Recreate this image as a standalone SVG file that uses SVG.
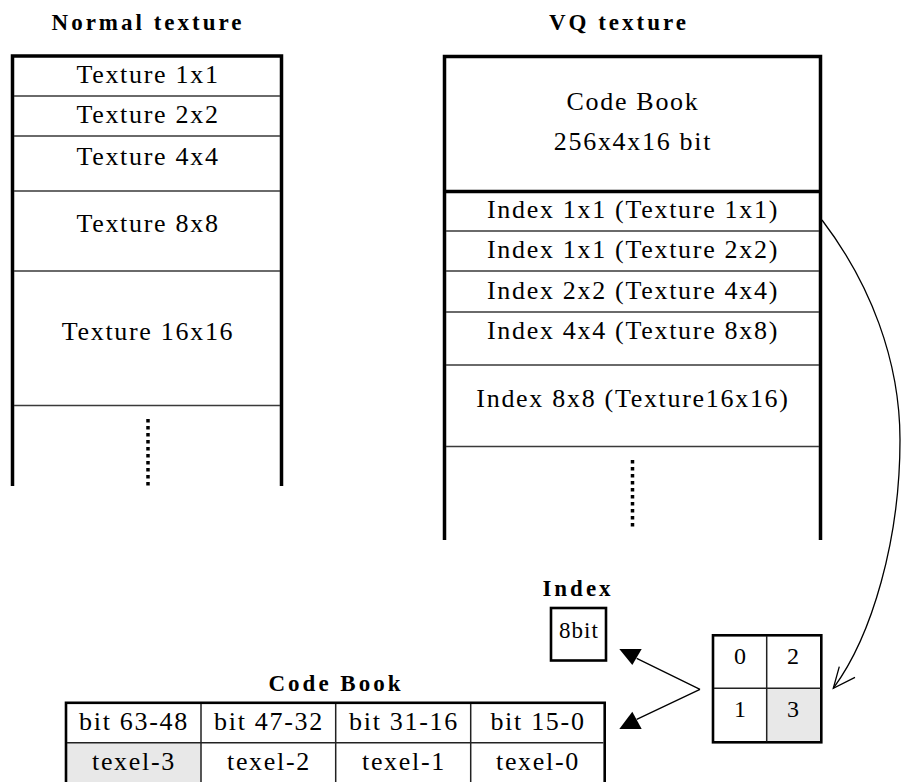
<svg xmlns="http://www.w3.org/2000/svg" width="901" height="782" viewBox="0 0 901 782">
<style>
text{font-family:"Liberation Serif","Times New Roman",serif;fill:#000}
.t{font-size:26px;letter-spacing:1.7px;text-anchor:middle}
.h{font-size:23px;font-weight:bold;letter-spacing:3px;text-anchor:middle}
.s{font-size:23px;letter-spacing:1px;text-anchor:middle}
.d{font-size:24px;text-anchor:middle}
.frame{stroke:#000;stroke-width:3.5;fill:none}
.row{stroke:#3a3a3a;stroke-width:1.5;fill:none}
.dots{stroke:#000;stroke-width:3.5;stroke-dasharray:3.5 3.5;fill:none}
.box{stroke:#000;stroke-width:2.6;fill:none}
.thin{stroke:#222;stroke-width:1.5;fill:none}
.shade{fill:#e8e8e8}
.conn{stroke:#000;stroke-width:1.3;fill:none}
</style>

<g id="normal-texture">
  <text class="h" x="148" y="30">Normal texture</text>
  <path class="frame" d="M12.5,486 V56 H281.5 V486"/>
  <path class="row" d="M14,96 H280 M14,136 H280 M14,191 H280 M14,271 H280 M14,405.5 H280"/>
  <text class="t" x="148" y="83">Texture 1x1</text>
  <text class="t" x="148" y="123">Texture 2x2</text>
  <text class="t" x="148" y="165">Texture 4x4</text>
  <text class="t" x="148" y="232">Texture 8x8</text>
  <text class="t" x="148" y="340">Texture 16x16</text>
  <line class="dots" x1="148" y1="419" x2="148" y2="486"/>
</g>

<g id="vq-texture">
  <text class="h" x="619" y="30">VQ texture</text>
  <path class="frame" d="M444.5,540 V56.5 H820.5 V540"/>
  <line class="frame" x1="444.5" y1="191.5" x2="820.5" y2="191.5"/>
  <path class="row" d="M446,231 H819 M446,271 H819 M446,312 H819 M446,365 H819 M446,446.5 H819"/>
  <text class="t" x="633" y="110">Code Book</text>
  <text class="t" x="633" y="150">256x4x16 bit</text>
  <text class="t" x="633" y="218">Index 1x1 (Texture 1x1)</text>
  <text class="t" x="633" y="258">Index 1x1 (Texture 2x2)</text>
  <text class="t" x="633" y="299">Index 2x2 (Texture 4x4)</text>
  <text class="t" x="633" y="339">Index 4x4 (Texture 8x8)</text>
  <text class="t" x="633" y="407">Index 8x8 (Texture16x16)</text>
  <line class="dots" x1="632.5" y1="460" x2="632.5" y2="527"/>
</g>

<g id="index">
  <text class="h" x="578" y="596">Index</text>
  <rect class="box" x="551" y="608" width="55" height="52.5"/>
  <text class="s" x="579" y="638">8bit</text>
</g>

<g id="grid">
  <rect class="shade" x="766.7" y="688.3" width="54.6" height="54"/>
  <rect class="box" x="713" y="635.3" width="108.3" height="107"/>
  <path class="thin" d="M766.7,636 V741.5 M714,688.3 H820.5"/>
  <text class="d" x="740" y="664">0</text>
  <text class="d" x="793" y="664">2</text>
  <text class="d" x="740" y="717">1</text>
  <text class="d" x="793" y="717">3</text>
</g>

<g id="codebook">
  <text class="h" x="336" y="691">Code Book</text>
  <rect class="shade" x="66" y="742.7" width="135" height="42"/>
  <rect class="box" x="66" y="702.8" width="538.7" height="82"/>
  <path class="thin" d="M201,704 V784 M335.7,704 V784 M470.7,704 V784 M67,742.7 H603.5"/>
  <text class="t" x="134" y="730">bit 63-48</text>
  <text class="t" x="269" y="730">bit 47-32</text>
  <text class="t" x="404" y="730">bit 31-16</text>
  <text class="t" x="538" y="730">bit 15-0</text>
  <text class="t" x="134" y="770">texel-3</text>
  <text class="t" x="269" y="770">texel-2</text>
  <text class="t" x="404" y="770">texel-1</text>
  <text class="t" x="538" y="770">texel-0</text>
</g>

<g id="connectors">
  <path class="conn" d="M822,220 C870,283 900,360 900,440 C900,540 872,636 833.3,688.3"/>
  <polyline class="conn" points="839.3,666.7 833.3,688.3 855,677.3"/>
  <path class="conn" d="M700,689.3 L636.7,658.3 M700,689.3 L636.7,719.3"/>
  <polygon points="619.3,649 641.7,649 632.3,665" fill="#000"/>
  <polygon points="619.3,729 641.7,729 632.3,711.7" fill="#000"/>
</g>
</svg>
